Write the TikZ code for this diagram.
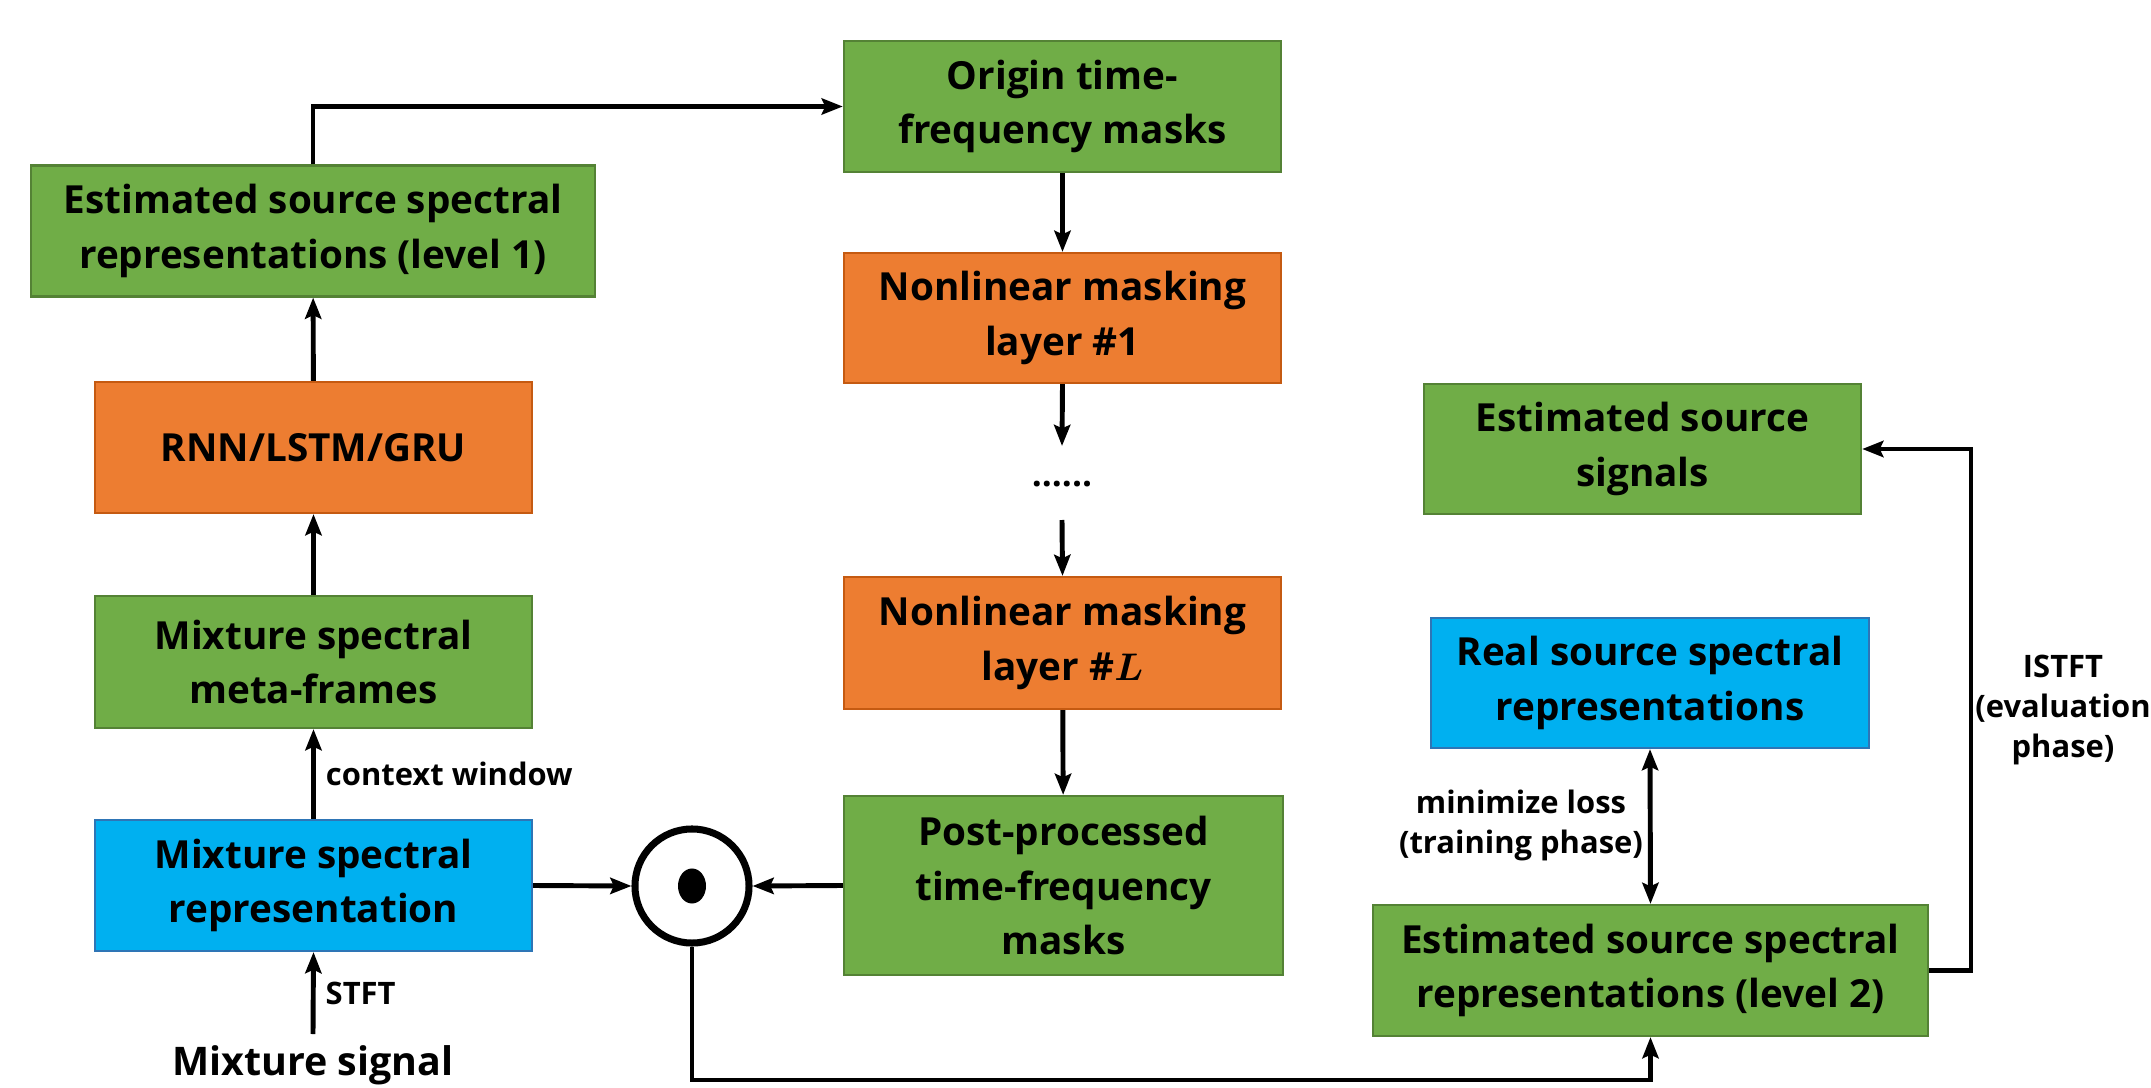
\documentclass[tikz,border=0pt]{standalone}
\usepackage{bm}
\usepackage{fontspec}
\setmainfont{Open Sans}
\usetikzlibrary{arrows.meta,shapes.geometric}
\definecolor{gfill}{HTML}{70AD47}
\definecolor{gdraw}{HTML}{548235}
\definecolor{ofill}{HTML}{ED7D31}
\definecolor{odraw}{HTML}{C55A11}
\definecolor{bfill}{HTML}{00B0F0}
\definecolor{bdraw}{HTML}{2E75B6}
\tikzset{
  basebox/.style={line width=0.6pt, align=center, inner sep=0pt,
    font=\bfseries\fontsize{11}{15.4}\selectfont},
  gbox/.style={basebox, fill=gfill, draw=gdraw},
  obox/.style={basebox, fill=ofill, draw=odraw},
  bbox/.style={basebox, fill=bfill, draw=bdraw},
  arr/.style={line width=1.4pt, -{Stealth[length=6pt,width=4.6pt,inset=1pt]}},
  darr/.style={line width=1.4pt, {Stealth[length=6pt,width=4.6pt,inset=1pt]}-{Stealth[length=6pt,width=4.6pt,inset=1pt]}},
  lbl/.style={font=\bfseries\fontsize{8.8}{11.4}\selectfont, inner sep=0pt, align=center},
}
\begin{document}
\begin{tikzpicture}[x=0.01cm,y=-0.01cm]
\useasboundingbox (0,0) rectangle (2151,1088);
% left column
\node[gbox, minimum width=5.64cm, minimum height=1.31cm] (lvl1) at (313,231) {Estimated source spectral\\representations (level 1)};
\node[obox, minimum width=4.37cm, minimum height=1.31cm] (rnn) at (313.5,447.5) {RNN/LSTM/GRU};
\node[gbox, minimum width=4.37cm, minimum height=1.32cm] (meta) at (313.5,662) {Mixture spectral\\meta-frames};
\node[bbox, minimum width=4.37cm, minimum height=1.31cm] (mixrep) at (313.5,885.5) {Mixture spectral\\representation};
\node[font=\bfseries\fontsize{11.2}{12}\selectfont, anchor=base, inner sep=0pt] (msig) at (313,1075) {Mixture signal};
\coordinate (stftstart) at (313,1034);
% middle column
\node[gbox, minimum width=4.37cm, minimum height=1.31cm] (origin) at (1062.5,106.5) {Origin time-\\frequency masks};
\node[obox, minimum width=4.37cm, minimum height=1.30cm] (nl1) at (1062.5,318) {Nonlinear masking\\layer \#$\mathbf{1}$};
\node[font=\bfseries\fontsize{10}{12}\selectfont, inner sep=0pt] (dots) at (1062,484) {......};
\coordinate (dotsin) at (1062,446);
\coordinate (dotsout) at (1062,520);
\node[obox, minimum width=4.37cm, minimum height=1.32cm] (nlL) at (1062.5,643) {Nonlinear masking\\layer \#$\bm{L}$};
\node[gbox, minimum width=4.39cm, minimum height=1.79cm] (post) at (1063.5,885.5) {Post-processed\\time-frequency\\masks};
% product
\node[circle, draw, line width=2pt, minimum size=1.14cm, inner sep=0pt] (circ) at (692,886) {};
\node[ellipse, fill, minimum width=0.28cm, minimum height=0.35cm, inner sep=0pt] (dot) at (692,886) {};
% right column
\node[gbox, minimum width=4.37cm, minimum height=1.30cm] (sig) at (1642.5,449) {Estimated source\\signals};
\node[bbox, minimum width=4.38cm, minimum height=1.30cm] (real) at (1650,683) {Real source spectral\\representations};
\node[gbox, minimum width=5.55cm, minimum height=1.31cm] (lvl2) at (1650.5,970.5) {Estimated source spectral\\representations (level 2)};
% connectors
\draw[arr] (stftstart) -- (mixrep.south) node[lbl, pos=0.5, anchor=west, xshift=0.1cm] (stft) {STFT};
\draw[arr] (mixrep.north) -- (meta.south) node[lbl, pos=0.5, anchor=west, xshift=0.1cm] (ctx) {context window};
\draw[arr] (meta) -- (rnn);
\draw[arr] (rnn) -- (lvl1);
\draw[arr] (lvl1.north) |- (origin.west);
\draw[arr] (origin) -- (nl1);
\draw[arr] (nl1.south) -- (dotsin);
\draw[arr] (dotsout) -- (nlL.north);
\draw[arr] (nlL) -- (post);
\draw[arr] (mixrep.east) -- (circ.west);
\draw[arr] (post.west) -- (circ.east);
\coordinate (bl) at (692,1080);
\draw[arr] (circ.south) -- (bl) -| (lvl2.south);
\draw[darr] (real.south) -- (lvl2.north);
\node[lbl] (loss) at (1521,825) {minimize loss\\(training phase)};
\coordinate (rt) at (1971,449);
\draw[arr] (lvl2.east) -| (rt) -- (sig.east);
\node[lbl, align=center] (istft) at (2063,710) {ISTFT\\(evaluation\\phase)};
\end{tikzpicture}
\end{document}
